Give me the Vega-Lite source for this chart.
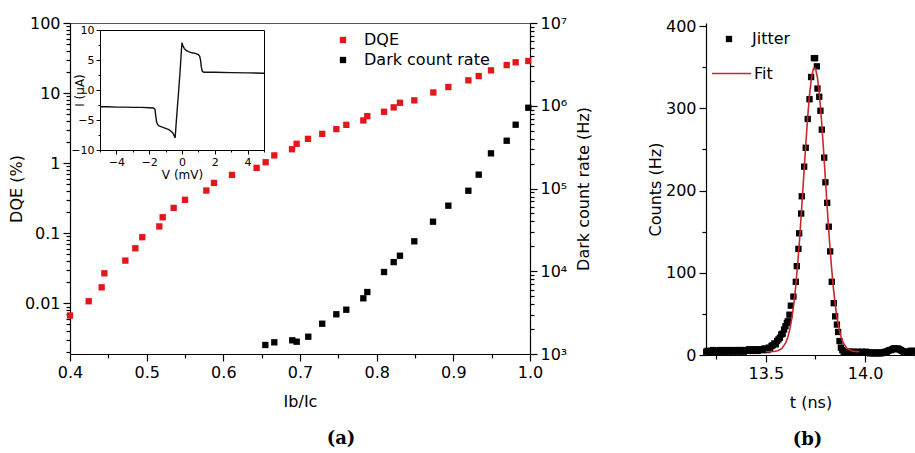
{
  "$schema": "https://vega.github.io/schema/vega-lite/v6.json",
  "background": "white",
  "padding": {"left": 7, "top": 14, "right": 0, "bottom": 0},
  "config": {
    "view": {"stroke": null},
    "font": "DejaVu Sans",
    "axis": {
      "labelFont": "DejaVu Sans", "titleFont": "DejaVu Sans",
      "labelFontSize": 16, "titleFontSize": 16, "titleFontWeight": "normal",
      "labelColor": "#000", "titleColor": "#000", "domainColor": "#000", "tickColor": "#000",
      "grid": false, "labelPadding": 3, "domainWidth": 1.2, "tickWidth": 1.2, "labelFlush": false
    },
    "legend": {"labelFont": "DejaVu Sans", "labelFontSize": 16, "labelColor": "#000", "padding": 0, "title": null},
    "title": {"font": "DejaVu Serif", "fontSize": 18, "fontWeight": "bold", "color": "#000"}
  },
  "bounds": "flush",
  "spacing": 176,
  "hconcat": [
    {
      "width": 460,
      "height": 331,
      "view": {"stroke": "#555"},
      "title": {"text": "(a)", "orient": "bottom", "dx": 41, "offset": 21},
      "resolve": {"scale": {"x": "independent", "y": "independent"}},
      "layer": [
        {
          "data": {"values": [
            {"r": 0.400, "v": 0.0067, "s": "DQE"}, {"r": 0.4244, "v": 0.0107, "s": "DQE"},
            {"r": 0.4413, "v": 0.0169, "s": "DQE"}, {"r": 0.4448, "v": 0.0268, "s": "DQE"},
            {"r": 0.4722, "v": 0.0407, "s": "DQE"}, {"r": 0.4852, "v": 0.061, "s": "DQE"},
            {"r": 0.4943, "v": 0.0877, "s": "DQE"}, {"r": 0.5165, "v": 0.125, "s": "DQE"},
            {"r": 0.5209, "v": 0.169, "s": "DQE"}, {"r": 0.5352, "v": 0.23, "s": "DQE"},
            {"r": 0.5500, "v": 0.30, "s": "DQE"}, {"r": 0.5778, "v": 0.407, "s": "DQE"},
            {"r": 0.5878, "v": 0.523, "s": "DQE"}, {"r": 0.6113, "v": 0.68, "s": "DQE"},
            {"r": 0.6434, "v": 0.857, "s": "DQE"}, {"r": 0.6552, "v": 1.03, "s": "DQE"},
            {"r": 0.6665, "v": 1.29, "s": "DQE"}, {"r": 0.6896, "v": 1.58, "s": "DQE"},
            {"r": 0.6956, "v": 1.89, "s": "DQE"}, {"r": 0.7104, "v": 2.22, "s": "DQE"},
            {"r": 0.7290, "v": 2.62, "s": "DQE"}, {"r": 0.7474, "v": 3.06, "s": "DQE"},
            {"r": 0.7604, "v": 3.52, "s": "DQE"}, {"r": 0.7826, "v": 4.07, "s": "DQE"},
            {"r": 0.7878, "v": 4.69, "s": "DQE"}, {"r": 0.8096, "v": 5.41, "s": "DQE"},
            {"r": 0.8222, "v": 6.25, "s": "DQE"}, {"r": 0.8304, "v": 7.27, "s": "DQE"},
            {"r": 0.8491, "v": 7.87, "s": "DQE"}, {"r": 0.8739, "v": 10.2, "s": "DQE"},
            {"r": 0.8935, "v": 12.2, "s": "DQE"}, {"r": 0.9196, "v": 15.2, "s": "DQE"},
            {"r": 0.9331, "v": 17.5, "s": "DQE"}, {"r": 0.9491, "v": 21.1, "s": "DQE"},
            {"r": 0.9696, "v": 25.1, "s": "DQE"}, {"r": 0.9813, "v": 27.5, "s": "DQE"},
            {"r": 0.9978, "v": 28.7, "s": "DQE"}
          ]},
          "mark": {"type": "square", "size": 40, "opacity": 1},
          "encoding": {
            "x": {"field": "r", "type": "quantitative", "scale": {"domain": [0.4, 1.0], "nice": false, "zero": false},
              "axis": {"title": "Ib/Ic", "orient": "bottom", "titlePadding": 13,
                "values": [0.4, 0.45, 0.5, 0.55, 0.6, 0.65, 0.7, 0.75, 0.8, 0.85, 0.9, 0.95, 1.0],
                "labelExpr": "abs(datum.value*10 - round(datum.value*10)) < 0.001 ? format(datum.value, '.1f') : ''",
                "tickSize": {"condition": {"test": "abs(datum.value*10 - round(datum.value*10)) < 0.001", "value": 7}, "value": 4}}},
            "y": {"field": "v", "type": "quantitative", "scale": {"type": "log", "domain": [0.00189, 100], "nice": false},
              "axis": {"title": "DQE (%)", "orient": "left", "titlePadding": 0,
                "values": [0.002, 0.003, 0.004, 0.005, 0.006, 0.007, 0.008, 0.009, 0.01, 0.02, 0.03, 0.04, 0.05, 0.06, 0.07, 0.08, 0.09, 0.1, 0.2, 0.3, 0.4, 0.5, 0.6, 0.7, 0.8, 0.9, 1, 2, 3, 4, 5, 6, 7, 8, 9, 10, 20, 30, 40, 50, 60, 70, 80, 90, 100],
                "labelExpr": "abs(log(datum.value)/LN10 - round(log(datum.value)/LN10)) < 0.001 ? (datum.value >= 1 ? format(datum.value, 'd') : format(datum.value, '~g')) : ''",
                "tickSize": {"condition": {"test": "abs(log(datum.value)/LN10 - round(log(datum.value)/LN10)) < 0.001", "value": 7}, "value": 4}}},
            "color": {"field": "s", "type": "nominal",
              "scale": {"domain": ["DQE", "Dark count rate"], "range": ["#e3161c", "#000000"]},
              "legend": {"orient": "none", "legendX": 265, "legendY": 9, "symbolType": "square", "symbolSize": 40, "labelOffset": 13, "rowPadding": 4}}
          }
        },
        {
          "data": {"values": [
            {"r": 0.6548, "v": 1285, "s": "Dark count rate"}, {"r": 0.6665, "v": 1384, "s": "Dark count rate"},
            {"r": 0.6899, "v": 1463, "s": "Dark count rate"}, {"r": 0.6957, "v": 1408, "s": "Dark count rate"},
            {"r": 0.7108, "v": 1618, "s": "Dark count rate"}, {"r": 0.7290, "v": 2323, "s": "Dark count rate"},
            {"r": 0.7474, "v": 3020, "s": "Dark count rate"}, {"r": 0.7604, "v": 3430, "s": "Dark count rate"},
            {"r": 0.7826, "v": 4710, "s": "Dark count rate"}, {"r": 0.7878, "v": 5610, "s": "Dark count rate"},
            {"r": 0.8096, "v": 9790, "s": "Dark count rate"}, {"r": 0.8222, "v": 12900, "s": "Dark count rate"},
            {"r": 0.8304, "v": 15400, "s": "Dark count rate"}, {"r": 0.8491, "v": 23000, "s": "Dark count rate"},
            {"r": 0.8735, "v": 39700, "s": "Dark count rate"}, {"r": 0.8935, "v": 62000, "s": "Dark count rate"},
            {"r": 0.9196, "v": 94000, "s": "Dark count rate"}, {"r": 0.9331, "v": 147000, "s": "Dark count rate"},
            {"r": 0.9491, "v": 266000, "s": "Dark count rate"}, {"r": 0.9696, "v": 378000, "s": "Dark count rate"},
            {"r": 0.9813, "v": 590000, "s": "Dark count rate"}, {"r": 0.9978, "v": 946000, "s": "Dark count rate"}
          ]},
          "mark": {"type": "square", "size": 40, "opacity": 1},
          "encoding": {
            "x": {"field": "r", "type": "quantitative", "scale": {"domain": [0.4, 1.0], "nice": false, "zero": false}, "axis": null},
            "y": {"field": "v", "type": "quantitative", "scale": {"type": "log", "domain": [1000, 10000000], "nice": false},
              "axis": {"title": "Dark count rate (Hz)", "orient": "right", "titlePadding": 9, "titleAngle": 270, "titleBaseline": "top",
                "values": [1000, 2000, 3000, 4000, 5000, 6000, 7000, 8000, 9000, 10000, 20000, 30000, 40000, 50000, 60000, 70000, 80000, 90000, 100000, 200000, 300000, 400000, 500000, 600000, 700000, 800000, 900000, 1000000, 2000000, 3000000, 4000000, 5000000, 6000000, 7000000, 8000000, 9000000, 10000000],
                "labelExpr": "abs(log(datum.value)/LN10 - round(log(datum.value)/LN10)) < 0.001 ? '10' + ['⁰','¹','²','³','⁴','⁵','⁶','⁷'][round(log(datum.value)/LN10)] : ''",
                "tickSize": {"condition": {"test": "abs(log(datum.value)/LN10 - round(log(datum.value)/LN10)) < 0.001", "value": 7}, "value": 4}}},
            "color": {"field": "s", "type": "nominal"}
          }
        },
        {
          "data": {"name": "iv", "values": [
            {"V": -5, "I": -2.8}, {"V": -4.5, "I": -2.8}, {"V": -4, "I": -2.85}, {"V": -3.5, "I": -2.85},
            {"V": -3, "I": -2.9}, {"V": -2.5, "I": -2.9}, {"V": -2, "I": -2.95}, {"V": -1.75, "I": -3.0},
            {"V": -1.65, "I": -3.2}, {"V": -1.6, "I": -4.3}, {"V": -1.55, "I": -5.3}, {"V": -1.5, "I": -5.7},
            {"V": -1.4, "I": -6.0}, {"V": -1.2, "I": -6.2}, {"V": -1.0, "I": -6.4}, {"V": -0.8, "I": -6.6},
            {"V": -0.65, "I": -6.9}, {"V": -0.55, "I": -7.2}, {"V": -0.48, "I": -7.6}, {"V": -0.42, "I": -8.0},
            {"V": -0.3, "I": -3.5}, {"V": -0.2, "I": 0.0}, {"V": -0.1, "I": 3.8}, {"V": -0.03, "I": 6.8},
            {"V": 0.0, "I": 7.9}, {"V": 0.06, "I": 7.3}, {"V": 0.15, "I": 6.9}, {"V": 0.25, "I": 6.6},
            {"V": 0.4, "I": 6.4}, {"V": 0.6, "I": 6.2}, {"V": 0.8, "I": 6.1}, {"V": 1.0, "I": 5.9},
            {"V": 1.08, "I": 5.6}, {"V": 1.13, "I": 5.0}, {"V": 1.18, "I": 3.8}, {"V": 1.24, "I": 3.1},
            {"V": 1.35, "I": 2.95}, {"V": 1.5, "I": 2.95}, {"V": 2, "I": 2.95}, {"V": 3, "I": 2.9},
            {"V": 4, "I": 2.85}, {"V": 5, "I": 2.8}
          ]},
          "mark": {"type": "line", "color": "#111", "strokeWidth": 1.4},
          "encoding": {
            "x": {"field": "V", "type": "quantitative", "scale": {"domain": [-5, 5], "range": [30, 194], "nice": false, "zero": false},
              "axis": {"title": "V (mV)", "orient": "bottom", "offset": -204, "labelFontSize": 11, "titleFontSize": 12, "titlePadding": 2, "labelPadding": 2,
                "values": [-5, -4, -3, -2, -1, 0, 1, 2, 3, 4, 5],
                "labelExpr": "(datum.value % 2 == 0 && abs(datum.value) < 5) ? format(datum.value, 'd') : ''",
                "tickSize": {"condition": {"test": "datum.value % 2 == 0", "value": 4}, "value": 2}, "domainWidth": 1, "tickWidth": 1}},
            "y": {"field": "I", "type": "quantitative", "scale": {"domain": [-10, 10], "range": [127, 7], "nice": false, "zero": false},
              "axis": {"title": "I (μA)", "orient": "left", "offset": -30, "labelFontSize": 11, "titleFontSize": 12, "titlePadding": -16, "labelPadding": 2,
                "values": [-10, -7.5, -5, -2.5, 0, 2.5, 5, 7.5, 10],
                "labelExpr": "datum.value % 5 == 0 ? format(datum.value, 'd') : ''",
                "tickSize": {"condition": {"test": "datum.value % 5 == 0", "value": 4}, "value": 2}, "domainWidth": 1, "tickWidth": 1}}
          }
        },
        {
          "data": {"name": "iv"},
          "mark": {"type": "line", "opacity": 0},
          "encoding": {
            "x": {"field": "V", "type": "quantitative", "scale": {"domain": [-5, 5], "range": [30, 194], "nice": false, "zero": false},
              "axis": {"title": null, "orient": "top", "offset": -7, "labels": false, "ticks": false, "domainWidth": 1}},
            "y": {"field": "I", "type": "quantitative", "scale": {"domain": [-10, 10], "range": [127, 7], "nice": false, "zero": false},
              "axis": {"title": null, "orient": "right", "offset": -266, "labels": false, "ticks": false, "domainWidth": 1}}
          }
        }
      ]
    },
    {
      "width": 209,
      "height": 332,
      "title": {"text": "(b)", "orient": "bottom", "dx": -3, "offset": 21},
      "layer": [
        {
          "mark": {"type": "rule", "color": "#444", "strokeWidth": 1.2},
          "encoding": {"y": {"datum": 400, "type": "quantitative"}}
        },
        {
          "data": {"values": [
            {"t": 13.200, "c": 4}, {"t": 13.207, "c": 5}, {"t": 13.214, "c": 3}, {"t": 13.221, "c": 5},
            {"t": 13.228, "c": 4}, {"t": 13.235, "c": 6}, {"t": 13.242, "c": 4}, {"t": 13.249, "c": 5},
            {"t": 13.256, "c": 3}, {"t": 13.263, "c": 5}, {"t": 13.270, "c": 6}, {"t": 13.277, "c": 4},
            {"t": 13.284, "c": 5}, {"t": 13.291, "c": 4}, {"t": 13.298, "c": 6}, {"t": 13.305, "c": 5},
            {"t": 13.312, "c": 4}, {"t": 13.319, "c": 6}, {"t": 13.326, "c": 5}, {"t": 13.333, "c": 4},
            {"t": 13.340, "c": 5}, {"t": 13.347, "c": 6}, {"t": 13.354, "c": 5}, {"t": 13.361, "c": 4},
            {"t": 13.368, "c": 6}, {"t": 13.375, "c": 5}, {"t": 13.382, "c": 6}, {"t": 13.389, "c": 4},
            {"t": 13.396, "c": 5}, {"t": 13.403, "c": 6}, {"t": 13.410, "c": 5}, {"t": 13.417, "c": 7},
            {"t": 13.424, "c": 5}, {"t": 13.431, "c": 6}, {"t": 13.438, "c": 5}, {"t": 13.445, "c": 7},
            {"t": 13.452, "c": 6}, {"t": 13.459, "c": 5}, {"t": 13.466, "c": 7}, {"t": 13.473, "c": 6},
            {"t": 13.480, "c": 7}, {"t": 13.487, "c": 6}, {"t": 13.494, "c": 8}, {"t": 13.501, "c": 7},
            {"t": 13.508, "c": 6}, {"t": 13.515, "c": 9}, {"t": 13.522, "c": 8}, {"t": 13.529, "c": 11},
            {"t": 13.536, "c": 12}, {"t": 13.543, "c": 14}, {"t": 13.550, "c": 13}, {"t": 13.557, "c": 17},
            {"t": 13.564, "c": 19}, {"t": 13.571, "c": 21}, {"t": 13.578, "c": 25}, {"t": 13.585, "c": 26},
            {"t": 13.592, "c": 31}, {"t": 13.599, "c": 35}, {"t": 13.606, "c": 39},
            {"t": 13.611, "c": 41}, {"t": 13.619, "c": 49}, {"t": 13.626, "c": 60}, {"t": 13.639, "c": 71},
            {"t": 13.651, "c": 89}, {"t": 13.656, "c": 108}, {"t": 13.664, "c": 129}, {"t": 13.668, "c": 148},
            {"t": 13.678, "c": 172}, {"t": 13.681, "c": 193}, {"t": 13.693, "c": 229}, {"t": 13.701, "c": 252},
            {"t": 13.711, "c": 287}, {"t": 13.720, "c": 311}, {"t": 13.728, "c": 338}, {"t": 13.742, "c": 361},
            {"t": 13.748, "c": 361}, {"t": 13.757, "c": 351}, {"t": 13.760, "c": 324}, {"t": 13.769, "c": 314},
            {"t": 13.775, "c": 297}, {"t": 13.782, "c": 274}, {"t": 13.794, "c": 240}, {"t": 13.800, "c": 210},
            {"t": 13.809, "c": 185}, {"t": 13.817, "c": 156}, {"t": 13.824, "c": 126}, {"t": 13.832, "c": 89},
            {"t": 13.842, "c": 63}, {"t": 13.849, "c": 47}, {"t": 13.858, "c": 37}, {"t": 13.864, "c": 28},
            {"t": 13.871, "c": 17}, {"t": 13.878, "c": 9}, {"t": 13.885, "c": 6}, {"t": 13.892, "c": 4},
            {"t": 13.899, "c": 4}, {"t": 13.906, "c": 3}, {"t": 13.913, "c": 4}, {"t": 13.920, "c": 3},
            {"t": 13.927, "c": 4}, {"t": 13.934, "c": 3}, {"t": 13.941, "c": 4}, {"t": 13.948, "c": 3},
            {"t": 13.955, "c": 3}, {"t": 13.962, "c": 4}, {"t": 13.969, "c": 3}, {"t": 13.976, "c": 3},
            {"t": 13.983, "c": 4}, {"t": 13.990, "c": 3}, {"t": 13.997, "c": 3}, {"t": 14.004, "c": 4},
            {"t": 14.011, "c": 3}, {"t": 14.018, "c": 3}, {"t": 14.025, "c": 2}, {"t": 14.032, "c": 3},
            {"t": 14.039, "c": 2}, {"t": 14.046, "c": 3}, {"t": 14.053, "c": 2}, {"t": 14.060, "c": 3},
            {"t": 14.067, "c": 2}, {"t": 14.074, "c": 3}, {"t": 14.081, "c": 2}, {"t": 14.088, "c": 3},
            {"t": 14.095, "c": 3}, {"t": 14.102, "c": 4}, {"t": 14.109, "c": 4}, {"t": 14.116, "c": 5},
            {"t": 14.123, "c": 6}, {"t": 14.130, "c": 6}, {"t": 14.137, "c": 7}, {"t": 14.144, "c": 8},
            {"t": 14.151, "c": 8}, {"t": 14.158, "c": 7}, {"t": 14.165, "c": 8}, {"t": 14.172, "c": 7},
            {"t": 14.179, "c": 6}, {"t": 14.186, "c": 5}, {"t": 14.193, "c": 4}, {"t": 14.200, "c": 4},
            {"t": 14.207, "c": 3}, {"t": 14.214, "c": 3}, {"t": 14.221, "c": 4}, {"t": 14.228, "c": 5},
            {"t": 14.235, "c": 5}, {"t": 14.242, "c": 4}, {"t": 14.249, "c": 5}
          ]},
          "transform": [{"calculate": "'Jitter'", "as": "s"}],
          "mark": {"type": "square", "size": 40, "opacity": 1},
          "encoding": {
            "x": {"field": "t", "type": "quantitative", "scale": {"domain": [13.199, 14.251], "nice": false, "zero": false},
              "axis": {"title": "t (ns)", "titlePadding": 13,
                "values": [13.25, 13.5, 13.75, 14.0, 14.25],
                "labelExpr": "(datum.value == 13.5 || datum.value == 14) ? format(datum.value, '.1f') : ''",
                "tickSize": {"condition": {"test": "datum.value == 13.5 || datum.value == 14", "value": 7}, "value": 4}}},
            "y": {"field": "c", "type": "quantitative", "scale": {"domain": [0, 403.7], "nice": false},
              "axis": {"title": "Counts (Hz)", "titlePadding": 2,
                "values": [0, 50, 100, 150, 200, 250, 300, 350, 400],
                "labelExpr": "datum.value % 100 == 0 ? format(datum.value, 'd') : ''",
                "tickSize": {"condition": {"test": "datum.value % 100 == 0", "value": 7}, "value": 4}}},
            "fill": {"field": "s", "type": "nominal", "scale": {"domain": ["Jitter"], "range": ["#000000"]},
              "legend": {"orient": "none", "legendX": 651, "legendY": 8, "symbolType": "square", "symbolSize": 40, "labelOffset": 15}}
          }
        },
        {
          "data": {"values": [
            {"t": 13.50, "c": 4.0}, {"t": 13.52, "c": 4.1}, {"t": 13.54, "c": 4.3}, {"t": 13.56, "c": 5.2},
            {"t": 13.58, "c": 7.8}, {"t": 13.60, "c": 14.7}, {"t": 13.61, "c": 21}, {"t": 13.62, "c": 30.2},
            {"t": 13.63, "c": 42.9}, {"t": 13.64, "c": 60}, {"t": 13.65, "c": 81.9}, {"t": 13.66, "c": 108.8},
            {"t": 13.67, "c": 140.5}, {"t": 13.68, "c": 176.1}, {"t": 13.69, "c": 213.9}, {"t": 13.70, "c": 251.6},
            {"t": 13.71, "c": 286.6}, {"t": 13.72, "c": 316}, {"t": 13.73, "c": 337.4}, {"t": 13.74, "c": 348.6},
            {"t": 13.75, "c": 348.6}, {"t": 13.76, "c": 337.4}, {"t": 13.77, "c": 316}, {"t": 13.78, "c": 286.6},
            {"t": 13.79, "c": 251.6}, {"t": 13.80, "c": 213.9}, {"t": 13.81, "c": 176.1}, {"t": 13.82, "c": 140.5},
            {"t": 13.83, "c": 108.8}, {"t": 13.84, "c": 81.9}, {"t": 13.85, "c": 60}, {"t": 13.86, "c": 42.9},
            {"t": 13.87, "c": 30.2}, {"t": 13.88, "c": 21}, {"t": 13.89, "c": 14.7}, {"t": 13.91, "c": 7.8},
            {"t": 13.93, "c": 5.2}, {"t": 13.95, "c": 4.3}, {"t": 13.97, "c": 4.1}
          ]},
          "transform": [{"calculate": "'Fit'", "as": "s"}],
          "mark": {"type": "line", "strokeWidth": 1.6},
          "encoding": {
            "x": {"field": "t", "type": "quantitative"},
            "y": {"field": "c", "type": "quantitative"},
            "stroke": {"field": "s", "type": "nominal", "scale": {"domain": ["Fit"], "range": ["#c8282e"]},
              "legend": {"orient": "none", "legendX": 641, "legendY": 30, "symbolType": "stroke", "symbolSize": 1521, "symbolStrokeWidth": 1.6, "labelOffset": 2}}
          }
        }
      ]
    }
  ]
}
